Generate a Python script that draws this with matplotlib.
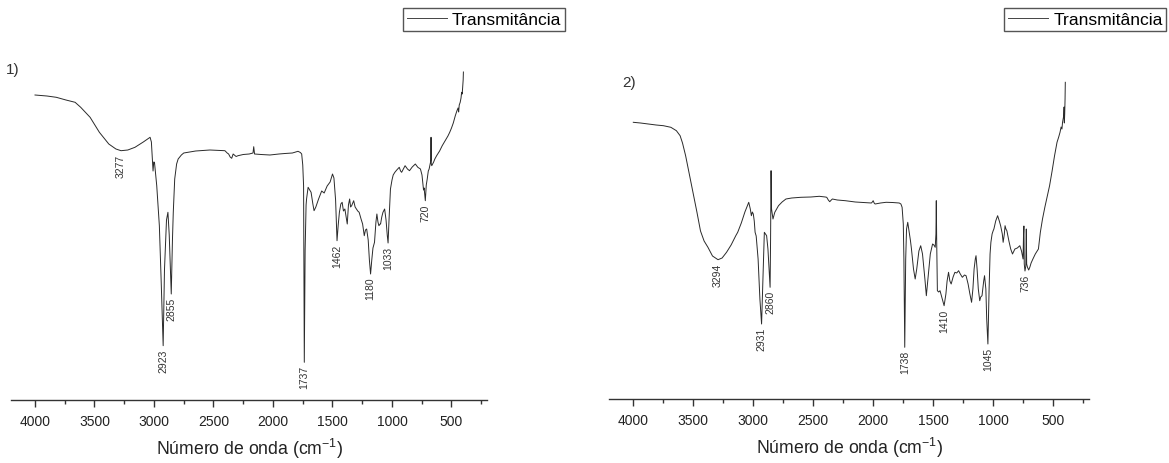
import numpy as np
import matplotlib
matplotlib.use("Agg")
import matplotlib.pyplot as plt
from matplotlib.lines import Line2D
from matplotlib.ticker import MultipleLocator

plt.rcParams["font.family"] = ["Liberation Sans", "DejaVu Sans"]
plt.rcParams["mathtext.fontset"] = "custom"
plt.rcParams["mathtext.rm"] = "Liberation Sans"

# Spectrum 1: wavenumber (cm-1) and transmittance (arbitrary units)
wn_1 = [4000, 3900, 3821, 3740, 3663, 3616, 3537, 3459, 3380, 3320, 3277, 3220, 3160, 3090,
        3033, 3022, 3012, 3008, 3002, 2996, 2977, 2955, 2940, 2923, 2912, 2895, 2883, 2872,
        2855, 2845, 2838, 2826, 2810, 2797, 2770, 2750, 2650, 2530, 2450, 2404, 2385, 2373,
        2360, 2347, 2335, 2325, 2310, 2294, 2250, 2200, 2168, 2162, 2155, 2100, 2026, 1950,
        1900, 1837, 1790, 1770, 1759, 1750, 1743, 1737, 1730, 1722, 1718, 1705, 1692, 1680,
        1665, 1655, 1640, 1617, 1591, 1570, 1545, 1520, 1500, 1488, 1474, 1462, 1452, 1442,
        1430, 1419, 1408, 1396, 1385, 1376, 1366, 1356, 1348, 1339, 1330, 1322, 1310, 1299,
        1288, 1276, 1260, 1247, 1233, 1223, 1213, 1200, 1190, 1180, 1170, 1160, 1147, 1135,
        1127, 1118, 1110, 1100, 1096, 1086, 1076, 1062, 1050, 1040, 1033, 1025, 1013, 1000,
        990, 976, 960, 939, 928, 919, 905, 890, 870, 853, 830, 804, 783, 761, 748, 735,
        730, 720, 712, 704, 695, 688, 676, 674, 672, 670, 666, 650, 640, 625, 600, 578,
        550, 530, 515, 500, 485, 468, 455, 445, 440, 435, 427, 420, 415, 410, 405, 402, 400]
t_1 = [305, 304, 302.7, 300, 297.7, 292.7, 282.7, 267.7, 256, 251, 249.3, 250, 252.7, 258,
       262.7, 258, 236, 229, 238, 237.7, 214.3, 174.3, 120, 54.3, 130, 180, 187.7, 165,
       106, 160, 187.7, 221, 236, 241, 245, 247, 249, 250, 249.5, 249.3, 247, 246,
       243, 241.7, 246, 245, 243.5, 244.3, 245.5, 246, 247, 253.3, 246, 245.5, 245, 246,
       246.5, 247, 248.7, 247.5, 246, 235, 214.3, 37.7, 150, 195, 201, 212.7, 210, 207.7,
       196, 189.3, 193, 201, 209, 207, 214, 218, 226, 222, 200, 159.3, 175, 187.7,
       196, 197.7, 189, 191, 183, 176, 195, 201, 193, 194.3, 197, 199.3, 193, 191,
       189, 187.7, 181, 176, 164.3, 170, 171, 160, 140, 126, 140, 152, 157.7, 178,
       186, 178, 174.3, 176, 176, 183, 187.7, 191, 180, 165, 157, 180, 211, 220,
       225, 227.7, 230, 232.7, 229, 227.7, 231, 234.3, 231, 229.3, 233, 236, 232.7, 231, 225, 210,
       212, 199.3, 215, 221, 229, 231, 238, 240, 262.7, 236, 234.3, 238, 241, 244.3, 249, 254.3,
       260, 264, 267.7, 272, 277, 284.3, 289, 292, 288, 295, 297.7, 302, 307.7, 306, 314.3, 320, 328]

# Spectrum 2
wn_2 = [4000, 3940, 3873, 3810, 3749, 3687, 3641, 3610, 3590, 3564, 3535, 3502, 3470, 3440,
        3410, 3378, 3340, 3294, 3260, 3223, 3185, 3146, 3130, 3100, 3070, 3038, 3025, 3016,
        3008, 3000, 2992, 2985, 2976, 2960, 2945, 2931, 2920, 2908, 2898, 2889, 2878, 2860,
        2856, 2852, 2848, 2836, 2821, 2790, 2760, 2728, 2680, 2604, 2520, 2450, 2400, 2388,
        2375, 2363, 2350, 2341, 2300, 2233, 2150, 2080, 2016, 2008, 2001, 1993, 1985, 1940,
        1893, 1840, 1784, 1770, 1760, 1750, 1745, 1738, 1730, 1723, 1713, 1701, 1690, 1682,
        1665, 1651, 1638, 1620, 1605, 1590, 1570, 1558, 1545, 1525, 1506, 1495, 1484, 1478,
        1475, 1472, 1466, 1455, 1444, 1430, 1410, 1395, 1385, 1373, 1362, 1351, 1335, 1320,
        1305, 1289, 1275, 1258, 1240, 1227, 1210, 1195, 1181, 1170, 1160, 1150, 1144, 1135,
        1125, 1113, 1105, 1094, 1080, 1073, 1062, 1055, 1045, 1035, 1027, 1020, 1010, 1001,
        995, 980, 964, 950, 939, 925, 918, 908, 902, 895, 887, 870, 855, 840, 820, 800,
        779, 765, 752, 748, 745, 742, 736, 729, 725, 722, 715, 705, 695, 685, 670, 650,
        624, 608, 590, 570, 550, 531, 510, 490, 469, 455, 444, 435, 428, 423, 418, 413,
        410, 408, 405, 402, 400]
t_2 = [276.7, 276, 275, 274, 273.3, 271.7, 268.3, 263.3, 256, 243.3, 226, 206.7, 187, 168,
       158, 151.7, 143, 139.3, 141, 146.7, 154, 163.3, 166.7, 176, 187, 196.7, 190, 183.3,
       187, 185, 178, 166.7, 163, 140, 100, 75, 120, 166.7, 165, 163.3, 150, 111.7,
       160, 228.3, 190, 180, 186.7, 193.3, 197, 200, 201, 201.7, 202, 202.7, 202, 201.7,
       199, 197.3, 199, 200, 199, 198.3, 197, 196.5, 196, 197, 198.3, 196, 195, 196,
       196.7, 196.5, 196, 195, 191.7, 175, 140, 51.7, 140, 170, 176.7, 166.7, 158, 150,
       130, 120, 130, 148, 153.3, 145, 120, 103.3, 120, 145, 155, 154, 151.7, 165,
       198.3, 160, 108.3, 107, 108.3, 102, 93.3, 105, 118, 126.7, 118, 115, 122, 126.7,
       126, 128.3, 125, 121.7, 124, 123.3, 115, 105, 96.7, 110, 130, 140, 143.3, 130,
       110, 98.3, 102, 103.3, 118, 123.3, 110, 80, 55, 110, 145, 156.7, 165, 168.3,
       170, 178, 183.3, 178, 173.3, 165, 156.7, 165, 173.3, 170, 168.3, 158, 150, 145, 150, 151,
       153.3, 148, 140, 165, 173, 135, 128, 133, 170, 135, 131.7, 129, 132, 136, 140, 145,
       150, 166.7, 180, 192, 203, 213.3, 228, 243, 256.7, 262, 266.7, 272, 270, 276.7, 280, 283.3,
       292, 276, 285, 300, 316.7]

# Labelled band positions
peaks_1 = [3277, 2923, 2855, 1737, 1462, 1180, 1033, 720]
peaks_2 = [3294, 2931, 2860, 1738, 1410, 1045, 736]

W, H = 1169, 464
fig = plt.figure(figsize=(W / 100, H / 100), dpi=100)


def draw_panel(rect, wn, t, peaks, ytop, tag, tag_xy, legend_xy):
    """Draw one IR spectrum panel with only the bottom axis."""
    ax = fig.add_axes(rect)
    wn = np.array(wn, dtype=float)
    t = np.array(t, dtype=float)
    ax.plot(wn, t, color="#2a2a2a", lw=0.7)

    # band labels just below each minimum
    order = np.argsort(wn)
    for p in peaks:
        y = np.interp(p, wn[order], t[order])
        ax.annotate(str(p), xy=(p, y), xytext=(0, -2), textcoords="offset points",
                    rotation=90, ha="center", va="top", fontsize=7.5, color="#333333")

    ax.set_xlim(4200, 200)
    ax.set_ylim(0, ytop)
    for side in ["left", "right", "top"]:
        ax.spines[side].set_visible(False)
    ax.spines["bottom"].set_linewidth(1.0)
    ax.spines["bottom"].set_color("#333333")
    ax.set_yticks([])
    ax.xaxis.set_major_locator(MultipleLocator(500))
    ax.xaxis.set_minor_locator(MultipleLocator(250))
    ax.set_xticks([4000, 3500, 3000, 2500, 2000, 1500, 1000, 500])
    ax.tick_params(axis="x", which="major", direction="out", length=5, width=1.0,
                   labelsize=10, pad=5, color="#333333", labelcolor="#222222")
    ax.tick_params(axis="x", which="minor", direction="out", length=3, width=1.0,
                   color="#333333")
    ax.set_xlabel("Número de onda (cm$^{\\mathregular{-1}}$)", fontsize=12.7,
                  labelpad=6, color="#222222")

    fig.text(tag_xy[0] / W, 1 - tag_xy[1] / H, tag, fontsize=11,
             ha="center", va="center", color="#333333")

    handle = Line2D([], [], color="#444444", lw=0.7)
    fig.legend([handle], ["Transmitância"], loc="upper right",
               bbox_to_anchor=(legend_xy[0] / W, 1 - legend_xy[1] / H),
               bbox_transform=fig.transFigure, fontsize=12.6, frameon=True,
               fancybox=False, framealpha=1, edgecolor="#555555", borderpad=0.2,
               handlelength=2.3, handletextpad=0.3, borderaxespad=0)
    return ax


ax1 = draw_panel([11.2 / W, 63 / H, 476 / W, 341 / H], wn_1, t_1, peaks_1, 341,
                 "1)", (13, 70), (565, 9.3))
ax2 = draw_panel([609.3 / W, 64 / H, 480 / W, 340 / H], wn_2, t_2, peaks_2, 340,
                 "2)", (629, 83), (1166, 9.3))

fig.savefig("out.png", dpi=100)
